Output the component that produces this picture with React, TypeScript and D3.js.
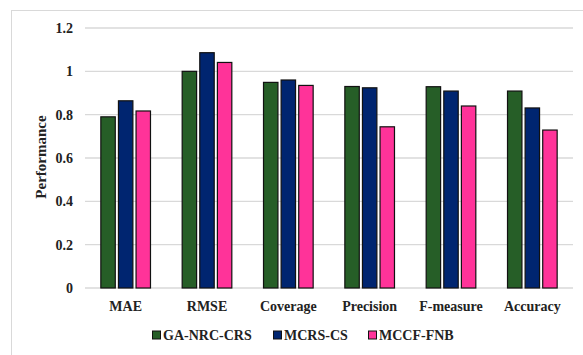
import React from "react";
import * as d3 from "d3";

const categories = ["MAE", "RMSE", "Coverage", "Precision", "F-measure", "Accuracy"];
const seriesNames = ["GA-NRC-CRS", "MCRS-CS", "MCCF-FNB"];
const gaNrcCrs = [0.79, 1.0, 0.949, 0.93, 0.929, 0.909];
const mcrsCs = [0.864, 1.086, 0.96, 0.924, 0.909, 0.831];
const mccfFnb = [0.817, 1.041, 0.935, 0.744, 0.84, 0.729];
const yTicks = [0, 0.2, 0.4, 0.6, 0.8, 1, 1.2];
const colors = ["#265e27", "#002570", "#ff3399"];

const W = 583;
const H = 355;
const font = '"Liberation Serif", "Times New Roman", serif';

export default function App() {
  const series = [gaNrcCrs, mcrsCs, mccfFnb];
  const x = d3.scaleBand<string>().domain(categories).range([85, 573]).padding(0);
  const xs = d3
    .scaleBand<number>()
    .domain(d3.range(series.length))
    .range([0, x.bandwidth()])
    .paddingInner(0.18)
    .paddingOuter(0.9);
  const y = d3.scaleLinear().domain([0, 1.2]).range([288, 28]);

  const legendX = [152, 273, 368];
  const textStyle = { fontFamily: font };

  return (
    <svg width={W} height={H} style={{ position: "absolute", left: 0, top: 0 }}>
      <rect x={11.5} y={10.5} width={W} height={H} fill="#fff" stroke="#d9d9d9" />
      {yTicks.map((t) => (
        <g key={t}>
          <line x1={85} x2={573} y1={y(t)} y2={y(t)} stroke="#d9d9d9" strokeWidth={1.3} />
          <text x={73} y={y(t)} dy="0.35em" textAnchor="end" fontSize={14} fontWeight="bold" fill="#222" style={textStyle}>
            {d3.format("")(t)}
          </text>
        </g>
      ))}
      <text
        transform={`translate(46,157) rotate(-90)`}
        textAnchor="middle"
        fontSize={15}
        fontWeight="bold"
        fill="#222"
        style={textStyle}
      >
        Performance
      </text>
      {categories.map((c, ci) => (
        <g key={c} transform={`translate(${x(c)},0)`}>
          {series.map((s, si) => (
            <rect
              key={si}
              x={xs(si)}
              y={y(s[ci])}
              width={xs.bandwidth()}
              height={y(0) - y(s[ci])}
              fill={colors[si]}
              stroke="#111"
              strokeWidth={1.2}
            />
          ))}
          <text
            x={x.bandwidth() / 2}
            y={311}
            textAnchor="middle"
            fontSize={14}
            fontWeight="bold"
            fill="#222"
            style={textStyle}
          >
            {c}
          </text>
        </g>
      ))}
      {seriesNames.map((n, i) => (
        <g key={n} transform={`translate(${legendX[i]},331)`}>
          <rect x={0.5} y={0} width={8} height={8} fill={colors[i]} stroke="#111" strokeWidth={1} />
          <text x={11} y={9} fontSize={14} fontWeight="bold" fill="#222" style={textStyle}>
            {n}
          </text>
        </g>
      ))}
    </svg>
  );
}
